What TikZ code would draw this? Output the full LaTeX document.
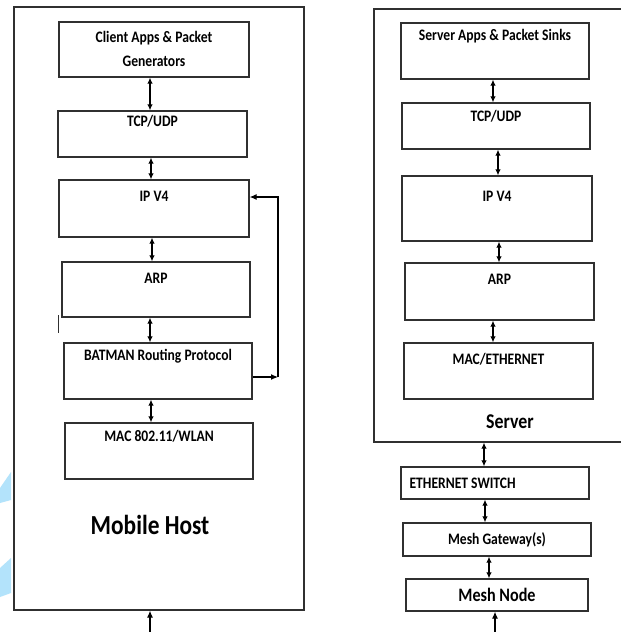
\documentclass[tikz,border=0pt]{standalone}
\usepackage{fontspec}
\setmainfont{Carlito}[FakeStretch=0.85]
\usetikzlibrary{arrows.meta}
\definecolor{ln}{HTML}{303030}
\definecolor{wm}{HTML}{B3E3FB}
\tikzset{
  layer/.style={draw=ln, line width=1.3pt, rectangle, inner sep=0pt},
  lbl/.style={font=\fontsize{16}{19}\selectfont\bfseries, inner sep=0pt, text=black},
  dbl/.style={{Latex[length=6pt,width=5.5pt]}-{Latex[length=6pt,width=5.5pt]}, line width=1.1pt, draw=black},
  one/.style={-{Latex[length=7pt,width=6pt]}, line width=1.1pt, draw=black},
  outer/.style={draw=ln, line width=1.3pt, rectangle, inner sep=0pt},
}
\begin{document}
\begin{tikzpicture}[x=1pt,y=-1pt]
\clip (0,0) rectangle (621,632);
\fill[white] (0,0) rectangle (621,632);
% watermark fragments
\fill[wm] (0,488) -- (11,472) -- (11,500) -- (0,503) -- cycle;
\fill[wm] (0,568) -- (11,558) -- (11,593) -- (0,597) -- cycle;

% ---------------- Mobile Host ----------------
\node[outer, minimum width=290pt, minimum height=603pt] (mh) at (159,308.5) {};
\node[layer, minimum width=190pt, minimum height=55pt] (cl) at (154,49.5) {};
\node[lbl, align=center] (clt) at ([yshift=-27.5pt]cl.north) {Client Apps \& Packet\\[5pt]Generators};
\node[layer, minimum width=189pt, minimum height=46pt] (tcp) at (152.5,134) {};
\node[lbl] (tcpt) at ([yshift=-11pt]tcp.north) {TCP/UDP};
\node[layer, minimum width=190pt, minimum height=57pt] (ip) at (154,208.5) {};
\node[lbl] (ipt) at ([yshift=-17pt]ip.north) {IP V4};
\node[layer, minimum width=188pt, minimum height=55pt] (arp) at (156,289.5) {};
\node[lbl] (arpt) at ([yshift=-17pt]arp.north) {ARP};
\node[layer, minimum width=188pt, minimum height=56pt] (bat) at (158,371) {};
\node[lbl] (batt) at ([yshift=-14pt]bat.north) {BATMAN Routing Protocol};
\node[layer, minimum width=188pt, minimum height=56pt] (mac) at (159,451) {};
\node[lbl] (mact) at ([yshift=-14pt]mac.north) {MAC 802.11/WLAN};
\node[font=\fontsize{27.5}{32}\selectfont\bfseries, inner sep=0pt] (mht) at (150,525) {Mobile Host};

\draw[dbl] ([xshift=-4pt]cl.south) -- ([xshift=-4pt]cl.south |- tcp.north);
\draw[dbl] ([xshift=-1.5pt]tcp.south) -- ([xshift=-1.5pt]tcp.south |- ip.north);
\draw[dbl] ([xshift=-2pt]ip.south) -- ([xshift=-2pt]ip.south |- arp.north);
\draw[dbl] ([xshift=-6pt]arp.south) -- ([xshift=-6pt]arp.south |- bat.north);
\draw[dbl] ([xshift=-7pt]bat.south) -- ([xshift=-7pt]bat.south |- mac.north);

% feedback BATMAN -> IP
\coordinate (fbb) at (278,377);
\coordinate (fbt) at (278,197);
\draw[one] (bat.east |- fbb) -- (fbb);
\draw[one] (fbb) -- (fbt) -- (ip.east |- fbt);

% stray tick
\coordinate (tk1) at (58,315);
\coordinate (tk2) at (58,333);
\draw[ln, line width=1pt] (tk1) -- (tk2);

% input arrow
\coordinate (mhin) at (150,640);
\draw[one] (mhin) -- (mhin |- mh.south);

% ---------------- Server ----------------
\node[outer, minimum width=256pt, minimum height=433pt] (sv) at (502,225.5) {};
\node[layer, minimum width=188pt, minimum height=56pt] (sa) at (495,51) {};
\node[lbl] (sat) at ([yshift=-14pt]sa.north) {Server Apps \& Packet Sinks};
\node[layer, minimum width=188pt, minimum height=46pt] (stcp) at (496,126) {};
\node[lbl] (stcpt) at ([yshift=-14pt]stcp.north) {TCP/UDP};
\node[layer, minimum width=190pt, minimum height=65pt] (sip) at (497,208.5) {};
\node[lbl] (sipt) at ([yshift=-21pt]sip.north) {IP V4};
\node[layer, minimum width=189pt, minimum height=57pt] (sarp) at (499.5,291.5) {};
\node[lbl] (sarpt) at ([yshift=-17pt]sarp.north) {ARP};
\node[layer, minimum width=189pt, minimum height=56pt] (smac) at (498.5,371) {};
\node[lbl] (smact) at ([yshift=-17pt]smac.north) {MAC/ETHERNET};
\node[font=\fontsize{21}{25}\selectfont\bfseries, inner sep=0pt] (svt) at (510,422) {Server};

\draw[dbl] ([xshift=-2pt]sa.south) -- ([xshift=-2pt]sa.south |- stcp.north);
\draw[dbl] ([xshift=2pt]stcp.south) -- ([xshift=2pt]stcp.south |- sip.north);
\draw[dbl] ([xshift=2pt]sip.south) -- ([xshift=2pt]sip.south |- sarp.north);
\draw[dbl] ([xshift=-6.5pt]sarp.south) -- ([xshift=-6.5pt]sarp.south |- smac.north);

% ---------------- Network ----------------
\node[layer, minimum width=188pt, minimum height=32pt] (sw) at (495,483) {};
\node[lbl, anchor=west] (swt) at ([xshift=9pt]sw.west) {ETHERNET SWITCH};
\node[layer, minimum width=188pt, minimum height=33pt, font=\fontsize{16}{19}\selectfont\bfseries] (gw) at (497,539.5) {Mesh Gateway(s)};
\node[layer, minimum width=182pt, minimum height=32pt, font=\fontsize{19}{23}\selectfont\bfseries] (mn) at (497,595) {Mesh Node};

\coordinate (x1) at (484,0);
\coordinate (x2) at (485,0);
\coordinate (x3) at (489,0);
\draw[dbl] (x1 |- sv.south) -- (x1 |- sw.north);
\draw[dbl] (x2 |- sw.south) -- (x2 |- gw.north);
\draw[dbl] (x3 |- gw.south) -- (x3 |- mn.north);
\coordinate (mnin) at (495,640);
\draw[one] (mnin) -- (mnin |- mn.south);
\end{tikzpicture}
\end{document}
